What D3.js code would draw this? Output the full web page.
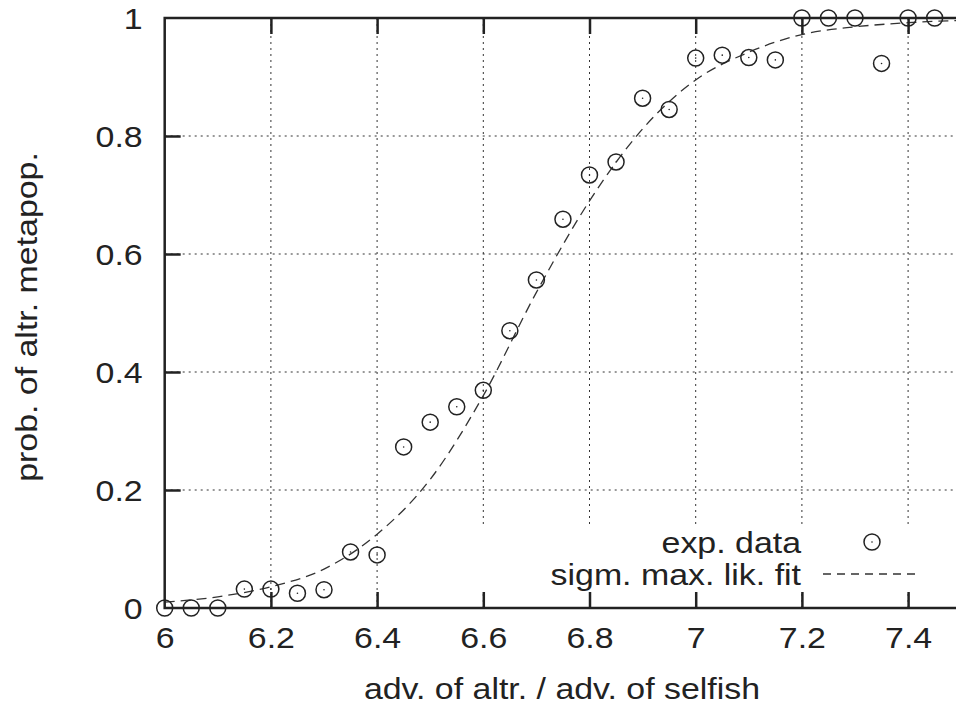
<!DOCTYPE html>
<html>
<head>
<meta charset="utf-8">
<script src="https://cdn.jsdelivr.net/npm/d3@7"></script>
<style>
  body { margin: 0; background: #fff; }
  svg { display: block; font-family: "Liberation Sans", Arial, sans-serif; }
  .grid line { stroke: #333; stroke-width: 1; stroke-dasharray: 2,4; }
  .axis path { display: none; }
  .axis line { stroke: #222; stroke-width: 2.5; }
  .axis text { font-size: 30px; fill: #222; }
  .frame { fill: none; stroke: #222; stroke-width: 2.5; }
  .fit { fill: none; stroke: #333; stroke-width: 1.3; stroke-dasharray: 10,6; }
  .dot { fill: none; stroke: #222; stroke-width: 1.5; }
  .center { fill: #222; }
  .label { font-size: 30px; fill: #222; }
</style>
</head>
<body>
<svg id="graph" width="956" height="711"></svg>
<script>
const advRatio = [6.00, 6.05, 6.10, 6.15, 6.20, 6.25, 6.30, 6.35, 6.40, 6.45,
                  6.50, 6.55, 6.60, 6.65, 6.70, 6.75, 6.80, 6.85, 6.90, 6.95,
                  7.00, 7.05, 7.10, 7.15, 7.20, 7.25, 7.30, 7.35, 7.40, 7.45];
const probAltr = [0, 0, 0, 0.032, 0.032, 0.025, 0.031, 0.095, 0.090, 0.273,
                  0.315, 0.341, 0.369, 0.470, 0.556, 0.659, 0.734, 0.756, 0.864, 0.845,
                  0.932, 0.937, 0.933, 0.929, 1, 1, 1, 0.923, 1, 1];

// sigmoid max. likelihood fit, sampled off the dashed curve
const fitX = [6.0, 6.1, 6.2, 6.3, 6.4, 6.5, 6.6, 6.7, 6.8, 6.9, 7.0, 7.1, 7.2, 7.3, 7.4, 7.5];
const fitY = [0.010, 0.019, 0.036, 0.066, 0.125, 0.218, 0.360, 0.535, 0.690, 0.812,
              0.895, 0.942, 0.972, 0.985, 0.992, 0.996];

const xTicks = [6, 6.2, 6.4, 6.6, 6.8, 7, 7.2, 7.4];
const yTicks = [0, 0.2, 0.4, 0.6, 0.8, 1];
const legendLabels = ['exp. data', 'sigm. max. lik. fit'];

const stretch = 'scale(1.13,1)';

const svg = d3.select('#graph');
const x = d3.scaleLinear().domain([6, 7.5]).range([164.7, 961.2]);
const y = d3.scaleLinear().domain([0, 1]).range([608, 18]);

// grid
const grid = svg.append('g').attr('class', 'grid');
grid.selectAll('.gx')
  .data(xTicks.filter(d => d > 6))
  .enter().append('line')
  .attr('x1', d => x(d)).attr('x2', d => x(d))
  .attr('y1', y(0)).attr('y2', y(1));
grid.selectAll('.gy')
  .data(yTicks.filter(d => d > 0 && d < 1))
  .enter().append('line')
  .attr('x1', x(6)).attr('x2', x(7.5))
  .attr('y1', d => y(d)).attr('y2', d => y(d));

// key box blanks out the grid behind it
svg.append('rect')
  .attr('x', 468).attr('y', 524)
  .attr('width', 500).attr('height', 68)
  .attr('fill', '#fff');

// fit curve
const line = d3.line()
  .x((d, i) => x(fitX[i]))
  .y(d => y(d))
  .curve(d3.curveMonotoneX);

svg.append('path')
  .datum(fitY)
  .attr('class', 'fit')
  .attr('d', line);

// axes
const xAxis = svg.append('g')
  .attr('class', 'axis')
  .attr('transform', `translate(0, ${y(0)})`)
  .call(d3.axisBottom(x).tickValues(xTicks).tickSizeInner(-16).tickSizeOuter(0).tickFormat(d => d));
xAxis.selectAll('text')
  .attr('y', 40).attr('dy', null)
  .attr('transform', stretch);
xAxis.selectAll('.tick').filter(d => d === 6).select('line').remove();

svg.append('g')
  .attr('class', 'axis')
  .attr('transform', `translate(0, ${y(1)})`)
  .call(d3.axisTop(x).tickValues(xTicks.filter(d => d > 6)).tickSizeInner(-16).tickSizeOuter(0).tickFormat(''));

const yAxis = svg.append('g')
  .attr('class', 'axis')
  .attr('transform', `translate(${x(6)}, 0)`)
  .call(d3.axisLeft(y).tickValues(yTicks).tickSizeInner(-16).tickSizeOuter(0).tickFormat(d => d));
yAxis.selectAll('text')
  .attr('x', 0).attr('dy', '0.35em')
  .attr('transform', `translate(-22, 0) ${stretch}`);
yAxis.selectAll('.tick').filter(d => d === 0 || d === 1).select('line').remove();

// frame
svg.append('rect')
  .attr('class', 'frame')
  .attr('x', x(6)).attr('y', y(1))
  .attr('width', x(7.5) - x(6))
  .attr('height', y(0) - y(1));

// data points
const pts = svg.append('g');
pts.selectAll('circle.dot')
  .data(probAltr)
  .enter().append('circle')
  .attr('class', 'dot')
  .attr('cx', (d, i) => x(advRatio[i]))
  .attr('cy', d => y(d))
  .attr('r', 8);
pts.selectAll('circle.center')
  .data(probAltr)
  .enter().append('circle')
  .attr('class', 'center')
  .attr('cx', (d, i) => x(advRatio[i]))
  .attr('cy', d => y(d))
  .attr('r', 0.8);

// key
const legend = svg.append('g');
legendLabels.forEach((lab, i) => {
  legend.append('text')
    .attr('class', 'label')
    .attr('text-anchor', 'end')
    .attr('transform', `translate(801, ${553 + i * 32}) ${stretch}`)
    .text(lab);
});
legend.append('circle').attr('class', 'dot').attr('cx', 872).attr('cy', 542).attr('r', 8);
legend.append('circle').attr('class', 'center').attr('cx', 872).attr('cy', 542).attr('r', 0.8);
legend.append('line')
  .attr('class', 'fit')
  .attr('x1', 823).attr('x2', 920)
  .attr('y1', 574).attr('y2', 574)
  .style('stroke-dasharray', '8,6');

// axis labels
svg.append('text')
  .attr('class', 'label')
  .attr('text-anchor', 'middle')
  .attr('transform', `translate(562, 699) ${stretch}`)
  .text('adv. of altr. / adv. of selfish');

svg.append('text')
  .attr('class', 'label')
  .attr('text-anchor', 'middle')
  .attr('transform', `translate(37, 317) rotate(-90) ${stretch}`)
  .text('prob. of altr. metapop.');
</script>
</body>
</html>
